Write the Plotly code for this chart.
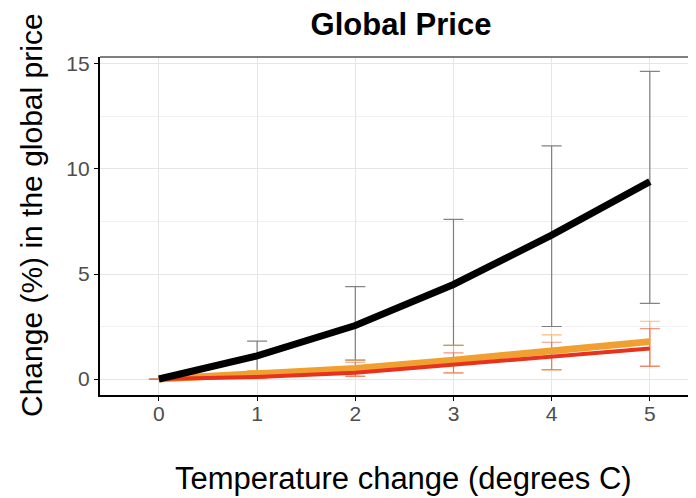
import plotly.graph_objects as go

temps = [0, 1, 2, 3, 4, 5]
black_vals = [0.0, 1.1, 2.55, 4.5, 6.85, 9.4]
black_hi = [0.0, 1.8, 4.4, 7.6, 11.1, 14.65]
black_lo = [0.0, 0.3, 0.9, 1.6, 2.5, 3.6]
orange_vals = [0.0, 0.22, 0.5, 0.9, 1.35, 1.78]
orange_hi = [0.0, 0.4, 0.9, 1.6, 2.1, 2.75]
orange_lo = [0.0, 0.05, 0.15, 0.28, 0.43, 0.62]
red_vals = [0.0, 0.1, 0.3, 0.68, 1.08, 1.45]
red_hi = [0.0, 0.35, 0.8, 1.25, 1.75, 2.4]
red_lo = [0.0, 0.05, 0.12, 0.3, 0.45, 0.6]


def err(vals, hi, lo):
    return dict(
        type="data", symmetric=False,
        array=[h - v for h, v in zip(hi, vals)],
        arrayminus=[v - l for v, l in zip(vals, lo)],
    )


fig = go.Figure()
for vals, hi, lo, col in [
    (black_vals, black_hi, black_lo, "rgba(90,90,90,0.75)"),
    (orange_vals, orange_hi, orange_lo, "rgba(245,160,60,0.7)"),
    (red_vals, red_hi, red_lo, "rgba(235,80,50,0.6)"),
]:
    e = err(vals, hi, lo)
    e.update(color=col, thickness=1.2, width=10)
    fig.add_trace(go.Scatter(x=temps, y=vals, mode="markers",
                             marker=dict(size=1, opacity=0),
                             error_y=e, showlegend=False, hoverinfo="skip"))

fig.add_trace(go.Scatter(x=temps, y=orange_vals, mode="lines",
                         line=dict(color="#f0a030", width=7), showlegend=False))
fig.add_trace(go.Scatter(x=temps, y=red_vals, mode="lines",
                         line=dict(color="#e8321e", width=4), showlegend=False))
fig.add_trace(go.Scatter(x=temps, y=black_vals, mode="lines",
                         line=dict(color="black", width=7), showlegend=False))

W, H = 688, 490
L, T, B = 92, 49, 103
PW, PH = W - L, H - T - B
fig.update_layout(
    width=W, height=H,
    margin=dict(l=L, r=0, t=T, b=B),
    plot_bgcolor="white", paper_bgcolor="white",
    font=dict(family="Liberation Sans, Arial, sans-serif", color="black"),
    title=dict(text="<b>Global Price</b>", x=393 / W, xanchor="center",
               y=1 - 5 / H, yanchor="top", pad=dict(t=0, b=0),
               font=dict(size=31, color="black")),
    xaxis=dict(
        range=[-0.6, 5.47], tickvals=temps, ticktext=[str(t) for t in temps],
        showgrid=True, gridcolor="#e6e6e6", gridwidth=1.2,
        showline=True, linecolor="black", linewidth=2.2,
        ticks="outside", ticklen=4, tickcolor="black",
        tickfont=dict(size=21, color="#4d4d4d"), zeroline=False,
    ),
    yaxis=dict(
        range=[-0.76, 15.33], tickvals=[0, 5, 10, 15],
        showgrid=True, gridcolor="#e6e6e6", gridwidth=1.2,
        minor=dict(tickvals=[2.5, 7.5, 12.5], showgrid=True,
                   gridcolor="#f0f0f0", gridwidth=1),
        showline=True, linecolor="black", linewidth=2.2,
        ticks="outside", ticklen=4, tickcolor="black",
        tickfont=dict(size=21, color="#4d4d4d"), zeroline=False,
    ),
)
try:
    fig.update_xaxes(ticklabelstandoff=-5)
except Exception:
    pass

# axis titles as annotations for precise placement
fig.add_annotation(text="Change (%) in the global price", textangle=-90,
                   xref="paper", yref="paper",
                   x=(24 - L) / PW, y=1 - (207 - T) / PH,
                   xanchor="center", yanchor="middle", showarrow=False,
                   font=dict(size=30, color="black"))
fig.add_annotation(text="Temperature change (degrees C)",
                   xref="paper", yref="paper",
                   x=(395 - L) / PW, y=1 - (470 - T) / PH,
                   xanchor="center", yanchor="middle", showarrow=False,
                   font=dict(size=31, color="black"))
fig.add_shape(type="line", xref="paper", yref="paper", x0=0, x1=1, y0=1, y1=1,
              line=dict(color="#555555", width=1.5))

fig.write_html("out.html")
